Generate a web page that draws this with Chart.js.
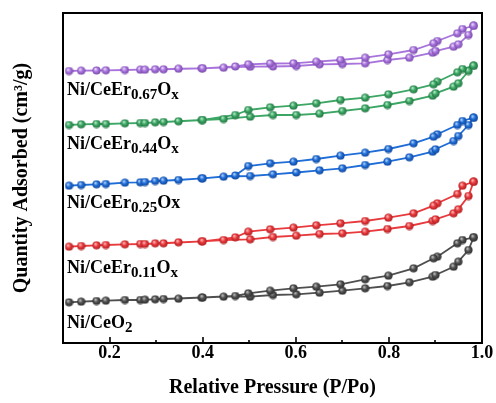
<!DOCTYPE html>
<html><head><meta charset="utf-8">
<script src="https://cdn.jsdelivr.net/npm/chart.js@4/dist/chart.umd.min.js"></script>
<style>html,body{margin:0;padding:0;background:#fff;}</style>
</head><body>
<canvas id="c" width="496" height="403"></canvas>
<script>
// ---- data ----
const adsP = [0.113,0.139,0.172,0.192,0.233,0.266,0.298,0.348,0.398,0.445,0.502,0.551,0.601,0.651,0.700,0.749,0.797,0.844,0.894,0.900,0.939,0.949,0.971,0.982];
const desP = [0.982,0.958,0.947,0.904,0.896,0.853,0.799,0.749,0.696,0.644,0.595,0.545,0.498,0.470,0.400,0.316,0.276];

const ceo2Ads = [40.7,41.3,42,42.3,43,43,43.7,44.3,45.3,46.3,46.3,48,48.7,50.3,52.3,54.7,57,60.7,66.3,68,76.3,81.3,93,105.7];
const ceo2Des = [105.7,103,99.7,86.3,84.7,74.7,67.3,63.7,58.7,56.3,54.7,52.3,49.7,47,45.5,44,43.3];

const er011Ads = [96.3,97,97.7,98,98.7,99,99.7,100.7,101.7,103,103.7,106,107.3,109,109.7,111.3,114,117,122,123.7,129.7,133.7,147,161.3];
const er011Des = [161.3,157.3,149,139.7,137.3,129.7,125.3,122,119.7,117.7,115.3,113.7,111.3,105.7,101.7,99.7,99];

const er025Ads = [157.3,158,158.7,159,160.3,160.7,162,163,164.7,166.3,167,168.7,170.5,172.7,174.7,178,181.3,185.7,191.3,193.7,202,207,218,225.3];
const er025Des = [225.3,222,218,208.7,206.3,199.7,194,190.3,187.3,184,181.3,179.7,177,167.5,164.7,162.3,161];

const er044Ads = [218,218.7,219,219,219.7,220,220.7,221.7,223,224,226.3,228,228,229.3,232,234.7,238,242,247.3,249.7,256.3,259.7,272,277.3];
const er044Des = [277.3,274,270.7,261.3,258.7,253.7,248.7,245.3,243,239.7,237.3,235.7,233,228,223,221,220];

const er067Ads = [272,272.3,272.5,272.7,273,273.3,273.7,274.3,274.7,275.3,276.3,276.5,277,278.7,279,279.7,283,285.3,290.3,292,296.3,298.7,308,317.3];
const er067Des = [317.3,314,309.7,302,299.7,293,288.7,285.3,283,281.3,279.7,279.5,278.7,276.5,274.7,273.7,273.3];

const xTicks = [0.2,0.4,0.6,0.8,1.0];
const xMinorTicks = [0.3,0.5,0.7,0.9];

// labels: segments [text, isSub]
const labels = [
  [["Ni/CeEr",0],["0.67",1],["O",0],["x",1]],
  [["Ni/CeEr",0],["0.44",1],["O",0],["x",1]],
  [["Ni/CeEr",0],["0.25",1],["Ox",0]],
  [["Ni/CeEr",0],["0.11",1],["O",0],["x",1]],
  [["Ni/CeO",0],["2",1]]
];
const labelBaselines = [95,149,208,273,328]; // layout (px)

// ---- styles ----
const serif = "'Times New Roman','Liberation Serif',serif";
const colors = {
  ceo2:['#4f4f4f','#c0c0c0','#2a2a2a'],
  e011:['#e83a3d','#ffbcbc','#a81a1d'],
  e025:['#1f6dd6','#b5d5fc','#0e4296'],
  e044:['#3ca664','#b8ecca','#1e6e3c'],
  e067:['#a874dc','#eddcfd','#7343a6']
};
function sprite(c){
  const cv=document.createElement('canvas'); cv.width=cv.height=9;
  const g=cv.getContext('2d');
  const gr=g.createRadialGradient(3.3,3,0.3,4.5,4.5,4.5);
  gr.addColorStop(0,c[1]); gr.addColorStop(0.45,c[0]); gr.addColorStop(1,c[2]);
  g.fillStyle=gr; g.beginPath(); g.arc(4.5,4.5,4.1,0,Math.PI*2); g.fill();
  return cv;
}
function ds(ads,des,c){
  const pts = adsP.map((p,i)=>({x:p,y:ads[i]})).concat(desP.map((p,i)=>({x:p,y:des[i]})));
  const img = sprite(c);
  return {data:pts,showLine:true,borderColor:c[0],borderWidth:1.8,tension:0,
    pointStyle:img,pointRadius:4,pointHoverRadius:4,backgroundColor:c[0]};
}

const frame = {
  id:'frame',
  afterDraw(chart){
    const {ctx,chartArea:a,scales:{x}} = chart;
    ctx.save();
    ctx.strokeStyle='#000'; ctx.lineWidth=2;
    ctx.strokeRect(a.left,a.top,a.right-a.left,a.bottom-a.top);
    ctx.lineWidth=1.6;
    xTicks.forEach(v=>{const px=Math.round(x.getPixelForValue(v)); ctx.beginPath(); ctx.moveTo(px,a.bottom); ctx.lineTo(px,a.bottom-6); ctx.stroke();});
    xMinorTicks.forEach(v=>{const px=Math.round(x.getPixelForValue(v)); ctx.beginPath(); ctx.moveTo(px,a.bottom); ctx.lineTo(px,a.bottom-3); ctx.stroke();});
    // sample labels
    ctx.fillStyle='#000'; ctx.textBaseline='alphabetic'; ctx.textAlign='left';
    labels.forEach((segs,i)=>{
      let cx=a.left+4; const by=labelBaselines[i];
      segs.forEach(([t,sub])=>{
        ctx.font = sub ? "bold 15px "+serif : "bold 18px "+serif;
        ctx.fillText(t,cx,sub?by+4:by);
        cx += ctx.measureText(t).width;
      });
    });
    ctx.restore();
  }
};

new Chart(document.getElementById('c'),{
  type:'scatter',
  data:{datasets:[
    ds(er067Ads,er067Des,colors.e067),
    ds(er044Ads,er044Des,colors.e044),
    ds(er025Ads,er025Des,colors.e025),
    ds(er011Ads,er011Des,colors.e011),
    ds(ceo2Ads,ceo2Des,colors.ceo2)
  ]},
  options:{
    responsive:false, devicePixelRatio:1, animation:false,
    layout:{padding:{top:13,right:14,left:0,bottom:0}},
    plugins:{legend:{display:false},tooltip:{enabled:false}},
    scales:{
      x:{type:'linear',min:0.1,max:1.0,
        afterBuildTicks:s=>{s.ticks=xTicks.map(v=>({value:v}));},
        grid:{display:false,drawTicks:false},border:{display:false},
        ticks:{color:'#000',font:{family:serif,size:18,weight:'bold'},padding:0,maxRotation:0,autoSkip:false,callback:v=>Number(v).toFixed(1)},
        title:{display:true,text:'Relative Pressure (P/Po)',color:'#000',font:{family:serif,size:20,weight:'bold'},padding:{top:0,bottom:3}},
        afterFit:s=>{s.height=60;}
      },
      y:{type:'linear',min:0,max:330,
        grid:{display:false,drawTicks:false},border:{display:false},
        ticks:{display:false},
        title:{display:true,text:'Quantity Adsorbed (cm³/g)',color:'#000',font:{family:serif,size:20,weight:'bold'},padding:{top:10,bottom:0}},
        afterFit:s=>{s.width=63;}
      }
    }
  },
  plugins:[frame]
});
</script>
</body></html>
